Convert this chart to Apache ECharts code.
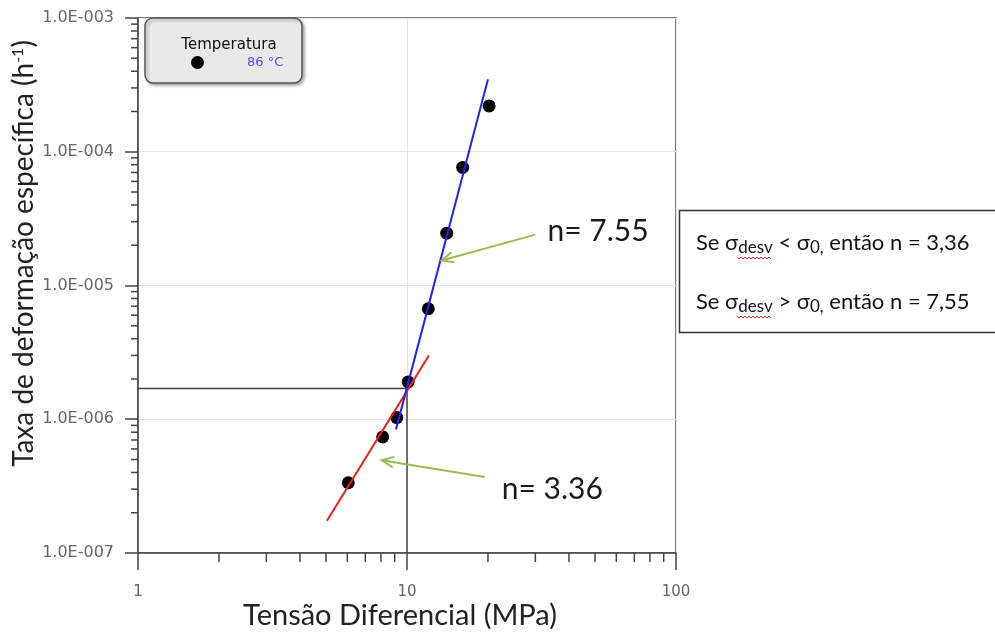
<!DOCTYPE html>
<html>
<head>
<meta charset="utf-8">
<script src="https://cdn.jsdelivr.net/npm/echarts@6/dist/echarts.min.js"></script>
<style>
html, body { margin: 0; padding: 0; background: #fff; }
#chart { width: 995px; height: 633px; }
</style>
</head>
<body>
<div id="chart"></div>
<script>
// ===== dados =====
// pontos medidos (Temperatura 86 °C)
var tensao = [6.05, 8.12, 9.16, 10.1, 12.0, 14.05, 16.1, 20.2];
var taxa = [3.35e-7, 7.38e-7, 1.03e-6, 1.90e-6, 6.70e-6, 2.46e-5, 7.64e-5, 2.20e-4];
// retas de ajuste
var ajusteAlto = [[9.1, 8.4e-7], [20.0, 3.49e-4]];    // n = 7.55
var ajusteBaixo = [[5.04, 1.74e-7], [12.06, 3.0e-6]]; // n = 3.36
// linha de referência (sigma0 = 10 MPa)
var linhaRef = [[1, 1.7e-6], [10, 1.7e-6], [10, 1e-7]];
// rótulos dos eixos
var xTickLabels = ['1', '10', '100'];
var yTickLabels = ['1.0E-007', '1.0E-006', '1.0E-005', '1.0E-004', '1.0E-003'];
var xMinor = [2, 3, 4, 5, 6, 7, 8, 9, 20, 30, 40, 50, 60, 70, 80, 90];
var yMinor = [2e-7, 3e-7, 4e-7, 5e-7, 6e-7, 7e-7, 8e-7, 9e-7,
    2e-6, 3e-6, 4e-6, 5e-6, 6e-6, 7e-6, 8e-6, 9e-6,
    2e-5, 3e-5, 4e-5, 5e-5, 6e-5, 7e-5, 8e-5, 9e-5,
    2e-4, 3e-4, 4e-4, 5e-4, 6e-4, 7e-4, 8e-4, 9e-4];
// setas e textos
var setaDe = [[30.0, 2.4e-5], [19.45, 3.7e-7]];
var setaPara = [[13.45, 1.54e-5], [8.06, 4.94e-7]];
var textoN = ['n= 7.55', 'n= 3.36'];
var textoNPos = [[33.3, 2.53e-5], [22.5, 3.0e-7]];

var X_MIN = 1, Y_MIN = 1e-7;
var labelFont = 'DejaVu Sans';
var titleFont = 'Lato, "Open Sans", sans-serif';

function pontos() {
    var d = [];
    for (var i = 0; i < tensao.length; i++) {
        d.push([tensao[i], taxa[i]]);
    }
    return d;
}

function setas() {
    var d = [];
    for (var i = 0; i < setaDe.length; i++) {
        d.push([setaDe[i][0], setaDe[i][1], setaPara[i][0], setaPara[i][1]]);
    }
    return d;
}

// sublinhado ondulado vermelho (corretor ortográfico) sob "desv"
function ondulado(x0, x1, y) {
    var pts = [];
    var k = 0;
    for (var x = x0; x <= x1; x += 2) {
        pts.push([x, y + (k % 2 === 0 ? 0 : 2)]);
        k++;
    }
    return pts;
}

var richCaixa = {
    n: { fontSize: 22, fontFamily: titleFont, fill: '#111', lineHeight: 26 },
    s: { fontSize: 17, fontFamily: titleFont, fill: '#111', lineHeight: 16, verticalAlign: 'bottom' }
};

var chart = echarts.init(document.getElementById('chart'));
var option = {
    animation: false,
    backgroundColor: '#fff',
    grid: {
        left: 138, right: 319, top: 18, bottom: 80,
        outerBoundsMode: 'none',
        containLabel: false,
        show: true, borderColor: '#555', borderWidth: 1.5
    },
    legend: {
        data: ['86 °C'],
        left: 186, top: 51, z: 10,
        icon: 'circle', itemWidth: 13, itemHeight: 13,
        textStyle: { color: '#4d4dff', fontSize: 13, fontFamily: labelFont, padding: [0, 0, 0, 38] }
    },
    xAxis: {
        type: 'log', logBase: 10, min: 1, max: 100,
        name: 'Tensão Diferencial (MPa)',
        nameLocation: 'middle', nameGap: 48, nameMoveOverlap: false,
        nameTextStyle: { fontSize: 29, fontFamily: titleFont, color: '#222', padding: [0, 14, 0, 0] },
        axisLine: { lineStyle: { color: '#444', width: 1.5 } },
        axisTick: { length: 17, lineStyle: { color: '#444', width: 1.5 } },
        axisLabel: {
            margin: 32, color: '#666', fontSize: 15, fontFamily: labelFont,
            formatter: function (v) { return xTickLabels[Math.round(Math.log10(v))]; }
        },
        splitLine: { show: true, lineStyle: { color: '#e4e4e4', width: 1 } }
    },
    yAxis: {
        type: 'log', logBase: 10, min: 1e-7, max: 1e-3,
        name: 'Taxa de deformação específica (h{s|-1})',
        nameLocation: 'middle', nameGap: 100, nameMoveOverlap: false,
        nameTextStyle: {
            fontSize: 28, fontFamily: titleFont, color: '#222', padding: [0, 0, 0, 64],
            rich: { s: { fontSize: 16, fontFamily: titleFont, color: '#222', verticalAlign: 'top', lineHeight: 22 } }
        },
        axisLine: { lineStyle: { color: '#444', width: 1.5 } },
        axisTick: { length: 13, lineStyle: { color: '#444', width: 1.5 } },
        axisLabel: {
            margin: 24, color: '#666', fontSize: 16, fontFamily: labelFont,
            formatter: function (v) { return yTickLabels[Math.round(Math.log10(v)) + 7]; }
        },
        splitLine: { show: true, lineStyle: { color: '#e4e4e4', width: 1 } }
    },
    graphic: [
        {
            type: 'rect', z: 5,
            shape: { x: 145, y: 18, width: 157, height: 65, r: 8 },
            style: {
                fill: '#e9e9e9', stroke: '#555', lineWidth: 1.5,
                shadowBlur: 3, shadowOffsetX: 2, shadowOffsetY: 2, shadowColor: 'rgba(0,0,0,0.3)'
            }
        },
        {
            type: 'text', z: 6, x: 229, y: 45,
            style: { text: 'Temperatura', fontSize: 15, fontFamily: labelFont, fill: '#111', align: 'center', verticalAlign: 'middle' }
        },
        {
            type: 'rect', z: 5,
            shape: { x: 679.5, y: 210.5, width: 330, height: 122 },
            style: { fill: '#fff', stroke: '#333', lineWidth: 1.5 }
        },
        {
            type: 'text', z: 6, x: 696, y: 230,
            style: { text: '{n|Se σ}{s|desv}{n| < σ}{s|0,}{n| então n = 3,36}', rich: richCaixa }
        },
        {
            type: 'text', z: 6, x: 696, y: 289,
            style: { text: '{n|Se σ}{s|desv}{n| > σ}{s|0,}{n| então n = 7,55}', rich: richCaixa }
        },
        {
            type: 'polyline', z: 7,
            shape: { points: ondulado(737, 771, 257) },
            style: { stroke: '#e03030', lineWidth: 1, fill: null }
        },
        {
            type: 'polyline', z: 7,
            shape: { points: ondulado(737, 771, 316) },
            style: { stroke: '#e03030', lineWidth: 1, fill: null }
        }
    ],
    series: [
        {
            name: '86 °C',
            type: 'scatter',
            symbol: 'circle',
            symbolSize: 13,
            itemStyle: { color: '#000', opacity: 1 },
            data: pontos(),
            z: 2
        },
        {
            name: 'ref',
            type: 'line',
            showSymbol: false,
            lineStyle: { color: '#444', width: 1.5 },
            data: linhaRef,
            z: 3
        },
        {
            name: 'n=3.36',
            type: 'line',
            showSymbol: false,
            lineStyle: { color: '#ee1c1c', width: 2 },
            data: ajusteBaixo,
            z: 4
        },
        {
            name: 'n=7.55',
            type: 'line',
            showSymbol: false,
            lineStyle: { color: '#2323f0', width: 2 },
            data: ajusteAlto,
            z: 5
        },
        {
            // setas verdes
            type: 'custom',
            silent: true,
            clip: false,
            encode: { x: [0, 2], y: [1, 3] },
            data: setas(),
            renderItem: function (params, api) {
                var a = api.coord([api.value(0), api.value(1)]);
                var b = api.coord([api.value(2), api.value(3)]);
                var ang = Math.atan2(a[1] - b[1], a[0] - b[0]);
                var L = 13, w = 0.42;
                var h1 = [b[0] + L * Math.cos(ang + w), b[1] + L * Math.sin(ang + w)];
                var h2 = [b[0] + L * Math.cos(ang - w), b[1] + L * Math.sin(ang - w)];
                return {
                    type: 'group',
                    children: [
                        { type: 'line', shape: { x1: a[0], y1: a[1], x2: b[0], y2: b[1] }, style: { stroke: '#9bbb59', lineWidth: 2 } },
                        { type: 'polyline', shape: { points: [h1, b, h2] }, style: { stroke: '#9bbb59', lineWidth: 2, fill: null } }
                    ]
                };
            },
            z: 6
        },
        {
            // textos n=
            type: 'custom',
            silent: true,
            clip: false,
            data: textoNPos,
            renderItem: function (params, api) {
                var p = api.coord([api.value(0), api.value(1)]);
                return {
                    type: 'text', x: p[0], y: p[1],
                    style: {
                        text: textoN[params.dataIndex], fontSize: 30, fontFamily: titleFont,
                        fill: '#1a1a1a', align: 'left', verticalAlign: 'middle'
                    }
                };
            },
            z: 6
        },
        {
            // marcas menores do eixo x
            type: 'custom',
            silent: true,
            clip: false,
            data: xMinor.map(function (v) { return [v, Y_MIN]; }),
            renderItem: function (params, api) {
                var p = api.coord([api.value(0), Y_MIN]);
                return { type: 'line', shape: { x1: p[0], y1: p[1], x2: p[0], y2: p[1] + 9 }, style: { stroke: '#444', lineWidth: 1.5 } };
            }
        },
        {
            // marcas menores do eixo y
            type: 'custom',
            silent: true,
            clip: false,
            data: yMinor.map(function (v) { return [X_MIN, v]; }),
            renderItem: function (params, api) {
                var p = api.coord([X_MIN, api.value(1)]);
                return { type: 'line', shape: { x1: p[0] - 7, y1: p[1], x2: p[0], y2: p[1] }, style: { stroke: '#444', lineWidth: 1.5 } };
            }
        }
    ]
};
chart.setOption(option);
</script>
</body>
</html>
